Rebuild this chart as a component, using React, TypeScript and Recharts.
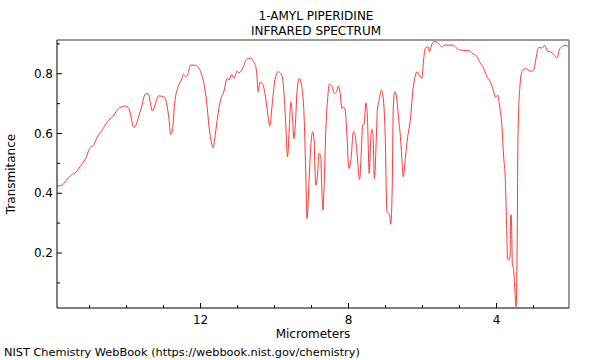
import React from "react";
import { Line, LineChart, ReferenceLine, XAxis, YAxis } from "recharts";

const MICROMETERS = [
  15.88, 15.75, 15.63, 15.5, 15.36, 15.23, 15.09, 15.0, 14.88, 14.79, 14.67, 14.52, 14.37, 14.19, 14.03, 13.94,
  13.8, 13.62, 13.49, 13.42, 13.3, 13.13, 12.97, 12.91, 12.85, 12.81, 12.76, 12.7, 12.61, 12.52, 12.46, 12.4,
  12.34, 12.27, 12.16, 12.07, 11.98, 11.91, 11.84, 11.77, 11.7, 11.66, 11.62, 11.55, 11.46, 11.37, 11.28, 11.23,
  11.16, 11.1, 11.01, 10.96, 10.85, 10.76, 10.65, 10.56, 10.49, 10.44, 10.4, 10.33, 10.26, 10.19, 10.13, 10.06,
  9.99, 9.9, 9.81, 9.75, 9.7, 9.65, 9.6, 9.56, 9.51, 9.48, 9.43, 9.39, 9.33, 9.27, 9.2, 9.16,
  9.12, 9.07, 9.02, 8.97, 8.93, 8.91, 8.88, 8.83, 8.8, 8.75, 8.73, 8.69, 8.66, 8.61, 8.56, 8.52,
  8.45, 8.38, 8.32, 8.28, 8.23, 8.18, 8.13, 8.09, 8.04, 7.99, 7.93, 7.87, 7.82, 7.77, 7.7, 7.65,
  7.62, 7.58, 7.53, 7.49, 7.44, 7.4, 7.37, 7.34, 7.3, 7.25, 7.22, 7.17, 7.11, 7.06, 7.01, 6.96,
  6.92, 6.89, 6.86, 6.82, 6.79, 6.75, 6.71, 6.65, 6.59, 6.55, 6.52, 6.46, 6.4, 6.33, 6.26, 6.2,
  6.15, 6.09, 6.02, 5.97, 5.93, 5.85, 5.81, 5.77, 5.7, 5.63, 5.57, 5.48, 5.39, 5.3, 5.18, 5.07,
  4.98, 4.75, 4.66, 4.53, 4.44, 4.35, 4.26, 4.17, 4.08, 4.03, 3.97, 3.92, 3.85, 3.81, 3.76, 3.73,
  3.7, 3.67, 3.63, 3.62, 3.6, 3.57, 3.54, 3.51, 3.47, 3.44, 3.42, 3.37, 3.31, 3.22, 3.15, 3.06,
  2.99, 2.93, 2.86, 2.77, 2.7, 2.63, 2.54, 2.45, 2.36, 2.3, 2.22, 2.14, 2.06,
];

const TRANSMITTANCE = [
  0.424, 0.427, 0.443, 0.46, 0.471, 0.494, 0.52, 0.55, 0.563, 0.589, 0.609, 0.639, 0.658, 0.686, 0.692, 0.684,
  0.62, 0.678, 0.732, 0.734, 0.676, 0.726, 0.721, 0.695, 0.645, 0.597, 0.611, 0.701, 0.756, 0.779, 0.798, 0.79,
  0.801, 0.829, 0.829, 0.823, 0.801, 0.768, 0.712, 0.622, 0.567, 0.552, 0.578, 0.645, 0.712, 0.74, 0.785, 0.779,
  0.798, 0.785, 0.809, 0.803, 0.821, 0.848, 0.852, 0.84, 0.812, 0.74, 0.77, 0.768, 0.734, 0.673, 0.625, 0.701,
  0.779, 0.807, 0.796, 0.745, 0.639, 0.522, 0.622, 0.706, 0.645, 0.583, 0.645, 0.745, 0.785, 0.762, 0.656, 0.488,
  0.315, 0.433, 0.555, 0.606, 0.578, 0.488, 0.427, 0.477, 0.533, 0.527, 0.444, 0.343, 0.421, 0.622, 0.723, 0.765,
  0.759, 0.734, 0.74, 0.759, 0.74, 0.684, 0.689, 0.678, 0.589, 0.483, 0.516, 0.606, 0.594, 0.533, 0.446, 0.55,
  0.628, 0.63, 0.703, 0.656, 0.466, 0.578, 0.614, 0.6, 0.449, 0.578, 0.678, 0.714, 0.745, 0.717, 0.6, 0.337,
  0.334, 0.326, 0.296, 0.41, 0.689, 0.74, 0.729, 0.656, 0.578, 0.5, 0.455, 0.522, 0.589, 0.645, 0.745, 0.79,
  0.807, 0.796, 0.785, 0.846, 0.885, 0.89, 0.874, 0.89, 0.907, 0.907, 0.902, 0.89, 0.896, 0.896, 0.896, 0.885,
  0.879, 0.878, 0.869, 0.858, 0.836, 0.819, 0.791, 0.774, 0.741, 0.721, 0.728, 0.696, 0.618, 0.528, 0.439, 0.305,
  0.182, 0.176, 0.193, 0.327, 0.327, 0.16, 0.149, 0.093, 0.02, 0.249, 0.584, 0.752, 0.808, 0.817, 0.813, 0.808,
  0.813, 0.853, 0.888, 0.886, 0.895, 0.877, 0.873, 0.864, 0.853, 0.88, 0.892, 0.895, 0.892,
];

const X_TICKS = [3, 4, 5, 6, 7, 8, 9, 10, 11, 12, 13, 14, 15];
const X_LABELS = [4, 8, 12];
const Y_TICKS = [0.05, 0.1, 0.15, 0.2, 0.25, 0.3, 0.35, 0.4, 0.45, 0.5, 0.55, 0.6, 0.65, 0.7, 0.75, 0.8, 0.85, 0.9];
const Y_LABELS = [0.2, 0.4, 0.6, 0.8];

const X_DOMAIN: [number, number] = [2.04, 15.88];
const Y_DOMAIN: [number, number] = [0.016, 0.913];

const FONT = "'DejaVu Sans', sans-serif";

const data = MICROMETERS.map((um, i) => ({ um, t: TRANSMITTANCE[i] }));

function XTick({ x, y, payload }: any) {
  const major = X_LABELS.includes(payload.value);
  return (
    <g>
      <line x1={x} x2={x} y1={y} y2={y - (major ? 5 : 3)} stroke="#000" />
      {major && (
        <text x={x} y={y + 16} textAnchor="middle" fontSize={12} fill="#000" fontFamily={FONT}>
          {payload.value}
        </text>
      )}
    </g>
  );
}

function YTick({ x, y, payload }: any) {
  const major = Y_LABELS.includes(payload.value);
  return (
    <g>
      <line x1={x} x2={x + (major ? 5 : 3)} y1={y} y2={y} stroke="#000" />
      {major && (
        <text x={x - 4} y={y + 4} textAnchor="end" fontSize={12} fill="#000" fontFamily={FONT}>
          {payload.value.toFixed(1)}
        </text>
      )}
    </g>
  );
}

export default function App() {
  return (
    <div
      style={{
        position: "absolute",
        left: 0,
        top: 0,
        width: 600,
        height: 360,
        background: "#fff",
        fontFamily: FONT,
        color: "#000",
      }}
    >
      <LineChart width={600} height={360} data={data} margin={{ top: 40, right: 31, left: 0, bottom: 0 }}>
        <XAxis
          dataKey="um"
          type="number"
          domain={X_DOMAIN}
          reversed
          allowDataOverflow
          ticks={X_TICKS}
          tick={<XTick />}
          tickLine={false}
          tickSize={0}
          tickMargin={0}
          height={52}
          axisLine={{ stroke: "#000" }}
        />
        <YAxis
          dataKey="t"
          type="number"
          domain={Y_DOMAIN}
          allowDataOverflow
          ticks={Y_TICKS}
          tick={<YTick />}
          tickLine={false}
          tickSize={0}
          tickMargin={0}
          width={57}
          axisLine={{ stroke: "#000" }}
        />
        <ReferenceLine y={Y_DOMAIN[1]} stroke="#9a9a9a" strokeWidth={2} />
        <ReferenceLine x={X_DOMAIN[0]} stroke="#9a9a9a" strokeWidth={2} />
        <Line
          dataKey="t"
          type="monotone"
          stroke="#ff3838"
          strokeWidth={1}
          dot={false}
          isAnimationActive={false}
        />
      </LineChart>

      <div style={{ position: "absolute", left: 216, top: 9, width: 200, textAlign: "center", fontSize: 12, lineHeight: "14px" }}>
        1-AMYL PIPERIDINE
      </div>
      <div style={{ position: "absolute", left: 216, top: 24, width: 200, textAlign: "center", fontSize: 12, lineHeight: "14px" }}>
        INFRARED SPECTRUM
      </div>
      <div style={{ position: "absolute", left: 213, top: 328, width: 200, textAlign: "center", fontSize: 12, lineHeight: "12px" }}>
        Micrometers
      </div>
      <div
        style={{
          position: "absolute",
          left: 11 - 50,
          top: 174 - 7,
          width: 100,
          textAlign: "center",
          fontSize: 12,
          lineHeight: "14px",
          transform: "rotate(-90deg)",
        }}
      >
        Transmitance
      </div>
      <div style={{ position: "absolute", left: 4, top: 346, fontSize: 11.3, lineHeight: "13px", whiteSpace: "nowrap" }}>
        NIST Chemistry WebBook (https://webbook.nist.gov/chemistry)
      </div>
    </div>
  );
}
